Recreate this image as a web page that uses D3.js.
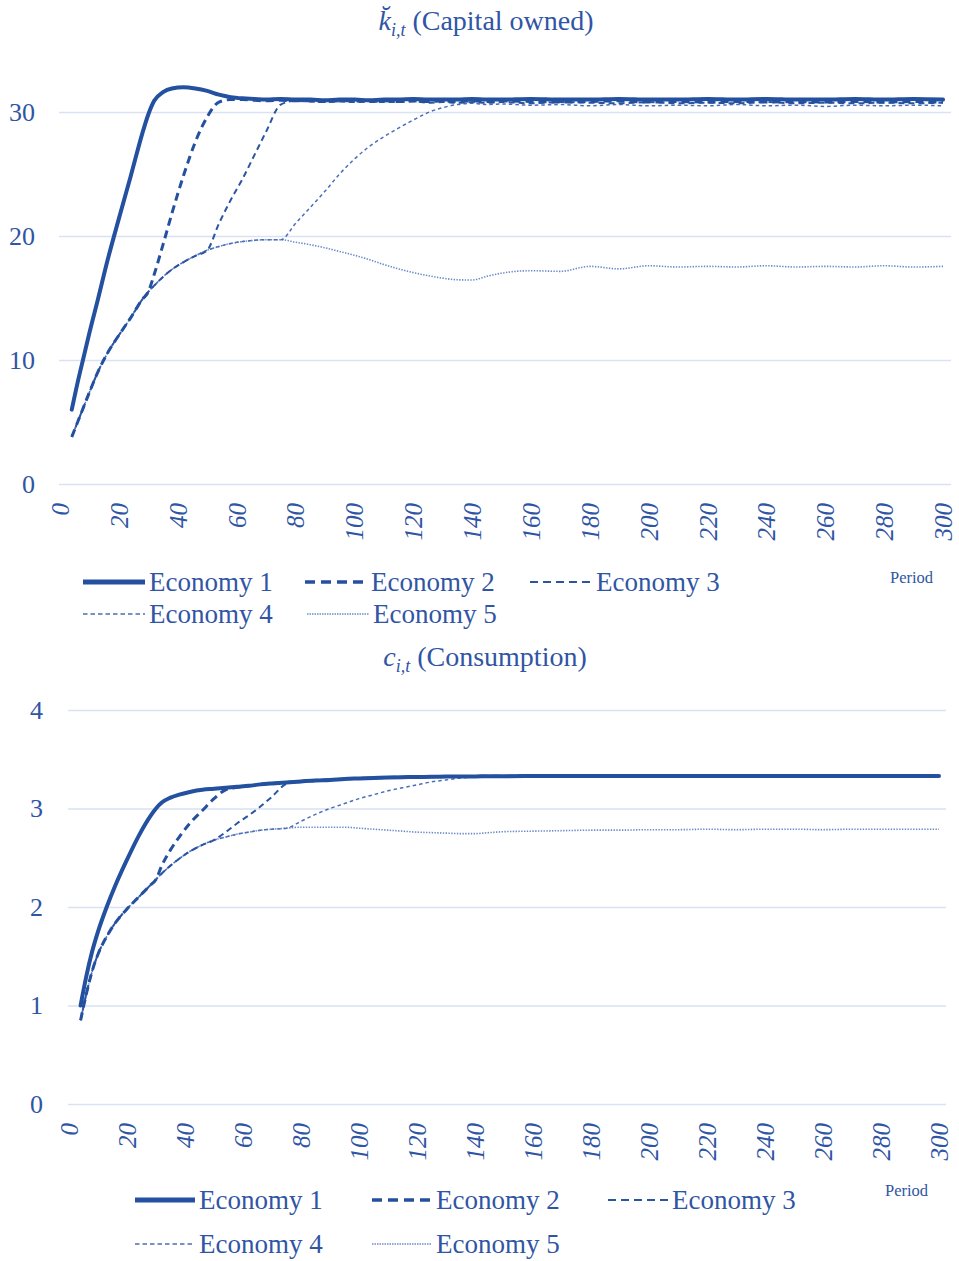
<!DOCTYPE html>
<html>
<head>
<meta charset="utf-8">
<script src="https://cdn.jsdelivr.net/npm/d3@7"></script>
<style>
  body { margin: 0; background: #fff; }
  text { font-family: "Liberation Serif", "Times New Roman", serif; fill: #2f55a4; }
</style>
</head>
<body>
<div id="chart"></div>
<script>
const periods = [4,6,8,10,13,16,20,24,28,30,32,35,38,42,46,50,54,58,62,66,70,75,80,85,90,95,100,105,110,115,120,125,130,135,140,145,150,160,170,180,190,200,210,220,230,240,250,260,270,280,290,300];

// capital owned
const capital1 = [6.0,8.2,10.2,12.2,15.0,17.9,21.4,24.8,28.3,29.8, 30.9,31.6,31.9,32.0,31.9,31.7,31.4,31.2,31.1,31.05, 31.0,31.05,31.0,31.0,30.95,31.0,31.0,30.95,31.0,31.0, 31.05,31.0,31.0,31.0,31.05,31.0,31.0,31.05,31.0,31.0, 31.05,31.0,31.0,31.05,31.0,31.05,31.0,31.0,31.05,31.0, 31.05,31.0];
const capital2 = [3.8,5.0,6.2,7.4,9.1,10.5,12.0,13.4,14.9,15.5, 16.9,19.3,21.8,24.9,27.6,29.6,30.8,31.0,31.0,30.95, 30.9,30.95,30.9,30.9,30.85,30.9,30.9,30.85,30.9,30.85, 30.9,30.85,30.9,30.85,30.9,30.85,30.9,30.85,30.8,30.85, 30.9,30.8,30.85,30.8,30.85,30.8,30.85,30.8,30.85,30.8, 30.85,30.8];
const capital3 = [3.8,5.0,6.2,7.4,9.1,10.5,12.0,13.4,14.9,15.5, 16.0,16.7,17.3,17.9,18.4,18.85,21.0,22.9,24.6,26.5, 28.4,30.6,30.9,30.85,30.8,30.85,30.8,30.85,30.8,30.8, 30.85,30.75,30.8,30.75,30.8,30.75,30.8,30.7,30.8,30.75, 30.7,30.8,30.7,30.75,30.7,30.8,30.7,30.75,30.7,30.75, 30.7,30.75];
const capital4 = [3.8,5.0,6.2,7.4,9.1,10.5,12.0,13.4,14.9,15.5, 16.0,16.7,17.3,17.9,18.4,18.85,19.15,19.4,19.55,19.65, 19.7,19.7,21.0,22.3,23.6,25.0,26.2,27.2,28.0,28.7, 29.35,29.95,30.35,30.6,30.7,30.6,30.65,30.55,30.6,30.5, 30.6,30.5,30.55,30.5,30.6,30.5,30.55,30.45,30.55,30.5, 30.55,30.5];
const capital5 = [3.8,5.0,6.2,7.4,9.1,10.5,12.0,13.4,14.9,15.5, 16.0,16.7,17.3,17.9,18.4,18.85,19.15,19.4,19.55,19.65, 19.7,19.7,19.5,19.3,19.05,18.75,18.45,18.1,17.7,17.35, 17.05,16.8,16.6,16.47,16.45,16.75,17.0,17.2,17.15,17.55, 17.35,17.6,17.5,17.55,17.5,17.6,17.5,17.55,17.5,17.6, 17.5,17.55];

// consumption
const consumption1 = [1.0,1.3,1.55,1.75,2.0,2.22,2.48,2.72,2.92,3.0, 3.06,3.11,3.14,3.17,3.19,3.2,3.21,3.22,3.23,3.245, 3.255,3.265,3.275,3.285,3.29,3.3,3.305,3.31,3.315,3.318, 3.32,3.322,3.324,3.325,3.326,3.327,3.328,3.33,3.33,3.33, 3.33,3.33,3.33,3.33,3.33,3.33,3.33,3.33,3.33,3.33, 3.33,3.33];
const consumption2 = [0.85,1.12,1.35,1.52,1.7,1.84,1.98,2.1,2.22,2.28, 2.42,2.58,2.71,2.86,2.98,3.1,3.19,3.215,3.23,3.245, 3.255,3.265,3.275,3.285,3.29,3.3,3.305,3.31,3.315,3.318, 3.32,3.322,3.324,3.325,3.326,3.327,3.328,3.33,3.33,3.33, 3.33,3.33,3.33,3.33,3.33,3.33,3.33,3.33,3.33,3.33, 3.33,3.33];
const consumption3 = [0.85,1.12,1.35,1.52,1.7,1.84,1.98,2.1,2.22,2.28, 2.34,2.42,2.49,2.57,2.63,2.68,2.76,2.85,2.93,3.02, 3.12,3.25,3.272,3.283,3.29,3.3,3.305,3.31,3.315,3.318, 3.32,3.322,3.324,3.325,3.326,3.327,3.328,3.33,3.33,3.33, 3.33,3.33,3.33,3.33,3.33,3.33,3.33,3.33,3.33,3.33, 3.33,3.33];
const consumption4 = [0.85,1.12,1.35,1.52,1.7,1.84,1.98,2.1,2.22,2.28, 2.34,2.42,2.49,2.57,2.63,2.68,2.71,2.74,2.76,2.78, 2.79,2.8,2.87,2.94,3.0,3.05,3.1,3.14,3.18,3.21, 3.24,3.27,3.29,3.31,3.32,3.325,3.328,3.33,3.33,3.33, 3.33,3.33,3.33,3.33,3.33,3.33,3.33,3.33,3.33,3.33, 3.33,3.33];
const consumption5 = [0.85,1.12,1.35,1.52,1.7,1.84,1.98,2.1,2.22,2.28, 2.34,2.42,2.49,2.57,2.63,2.68,2.71,2.74,2.76,2.78, 2.79,2.8,2.81,2.81,2.81,2.81,2.8,2.79,2.78,2.77, 2.76,2.755,2.75,2.745,2.745,2.755,2.765,2.77,2.775,2.78, 2.78,2.785,2.785,2.79,2.785,2.79,2.79,2.785,2.79,2.79, 2.79,2.79];

const seriesNames = ["Economy 1", "Economy 2", "Economy 3", "Economy 4", "Economy 5"];
const periodTicks = [0,20,40,60,80,100,120,140,160,180,200,220,240,260,280,300];
const capitalTicks = [0,10,20,30];
const consumptionTicks = [0,1,2,3,4];

// line look per economy
const lineStyles = [
  { color: "#2450a0", width: 4,   dash: null,      legendWidth: 5,   legendDash: null },
  { color: "#2450a0", width: 3,   dash: "8,5",     legendWidth: 3.5, legendDash: "10,6" },
  { color: "#2b55a3", width: 2,   dash: "6,4",     legendWidth: 2.2, legendDash: "8,5" },
  { color: "#4a6fb8", width: 1.5, dash: "3.5,3",   legendWidth: 1.3, legendDash: "4.5,3" },
  { color: "#6d8bc8", width: 1.6, dash: "1.4,1.4", legendWidth: 1.3, legendDash: "1.5,1" }
];

const width = 959;
const height = 1261;

const svg = d3.select("#chart")
  .append("svg")
  .attr("width", width)
  .attr("height", height);

function drawPanel(cfg) {
  const g = svg.append("g");

  const xScale = d3.scaleLinear().domain([0, 300]).range(cfg.xRange);
  const yScale = d3.scaleLinear().domain(cfg.yDomain).range(cfg.yRange);

  // horizontal gridlines + y labels
  const yAxis = d3.axisLeft(yScale)
    .tickValues(cfg.yTicks)
    .tickSize(-(cfg.gridRight - cfg.gridLeft))
    .tickPadding(cfg.yPad)
    .tickFormat(d3.format("d"));
  const yG = g.append("g")
    .attr("transform", `translate(${cfg.gridLeft},0)`)
    .call(yAxis);
  yG.select(".domain").remove();
  yG.selectAll("line").attr("stroke", "#d9e1f2").attr("stroke-width", 1.5);
  yG.selectAll("text")
    .attr("font-size", 26)
    .attr("fill", "#2f55a4")
    .style("font-family", "Liberation Serif");

  // rotated period labels
  const xAxis = d3.axisBottom(xScale).tickValues(periodTicks).tickSize(0);
  const xG = g.append("g")
    .attr("transform", `translate(0,${cfg.xLabelTop})`)
    .call(xAxis);
  xG.select(".domain").remove();
  xG.selectAll("text")
    .attr("x", 0)
    .attr("y", 0)
    .attr("dy", "0.34em")
    .attr("transform", "rotate(-90)")
    .attr("text-anchor", "end")
    .attr("font-size", 25)
    .attr("font-style", "italic")
    .attr("fill", "#2f55a4")
    .style("font-family", "Liberation Serif");

  const line = d3.line()
    .x((d, i) => xScale(periods[i]))
    .y(d => yScale(d))
    .curve(d3.curveMonotoneX);

  // draw lighter ones first so economy 1 is on top
  cfg.series.map((s, i) => ({ s, i })).reverse().forEach(({ s, i }) => {
    const st = lineStyles[i];
    g.append("path")
      .datum(s)
      .attr("fill", "none")
      .attr("stroke", st.color)
      .attr("stroke-width", st.width)
      .attr("stroke-dasharray", st.dash)
      .attr("stroke-linecap", i === 0 ? "round" : "butt")
      .attr("d", line);
  });

  // title
  const title = g.append("text")
    .attr("x", cfg.titleX)
    .attr("y", cfg.titleY)
    .attr("text-anchor", "middle")
    .attr("font-size", 28);
  title.append("tspan").attr("font-style", "italic").text(cfg.titleSymbol);
  title.append("tspan").attr("font-style", "italic").attr("font-size", 18).attr("dy", 6).text("i,t");
  title.append("tspan").attr("dy", -6).text(cfg.titleText);

  // legend
  const legend = g.append("g");
  cfg.legendPos.forEach((p, i) => {
    const st = lineStyles[i];
    legend.append("line")
      .attr("x1", p[0]).attr("x2", p[0] + cfg.sampleLen)
      .attr("y1", p[1]).attr("y2", p[1])
      .attr("stroke", st.color)
      .attr("stroke-width", st.legendWidth)
      .attr("stroke-dasharray", st.legendDash);
    legend.append("text")
      .attr("x", p[0] + cfg.sampleLen + 4)
      .attr("y", p[1] + 9)
      .attr("font-size", 27)
      .text(seriesNames[i]);
  });

  g.append("text")
    .attr("x", cfg.periodPos[0])
    .attr("y", cfg.periodPos[1])
    .attr("font-size", 16.5)
    .text("Period");
}

drawPanel({
  series: [capital1, capital2, capital3, capital4, capital5],
  xRange: [60, 943],
  yDomain: [0, 30],
  yRange: [484, 112],
  yTicks: capitalTicks,
  gridLeft: 59,
  gridRight: 951,
  yPad: 24,
  xLabelTop: 503,
  titleX: 486,
  titleY: 30,
  titleSymbol: "k\u0306",
  titleText: " (Capital owned)",
  legendPos: [[83, 582], [305, 582], [530, 582], [83, 614], [307, 614]],
  sampleLen: 62,
  periodPos: [890, 583]
});

drawPanel({
  series: [consumption1, consumption2, consumption3, consumption4, consumption5],
  xRange: [69, 939],
  yDomain: [0, 4],
  yRange: [1104, 710],
  yTicks: consumptionTicks,
  gridLeft: 68,
  gridRight: 946,
  yPad: 25,
  xLabelTop: 1123,
  titleX: 485,
  titleY: 666,
  titleSymbol: "c",
  titleText: " (Consumption)",
  legendPos: [[135, 1200], [372, 1200], [608, 1200], [135, 1244], [372, 1244]],
  sampleLen: 60,
  periodPos: [885, 1196]
});
</script>
</body>
</html>
